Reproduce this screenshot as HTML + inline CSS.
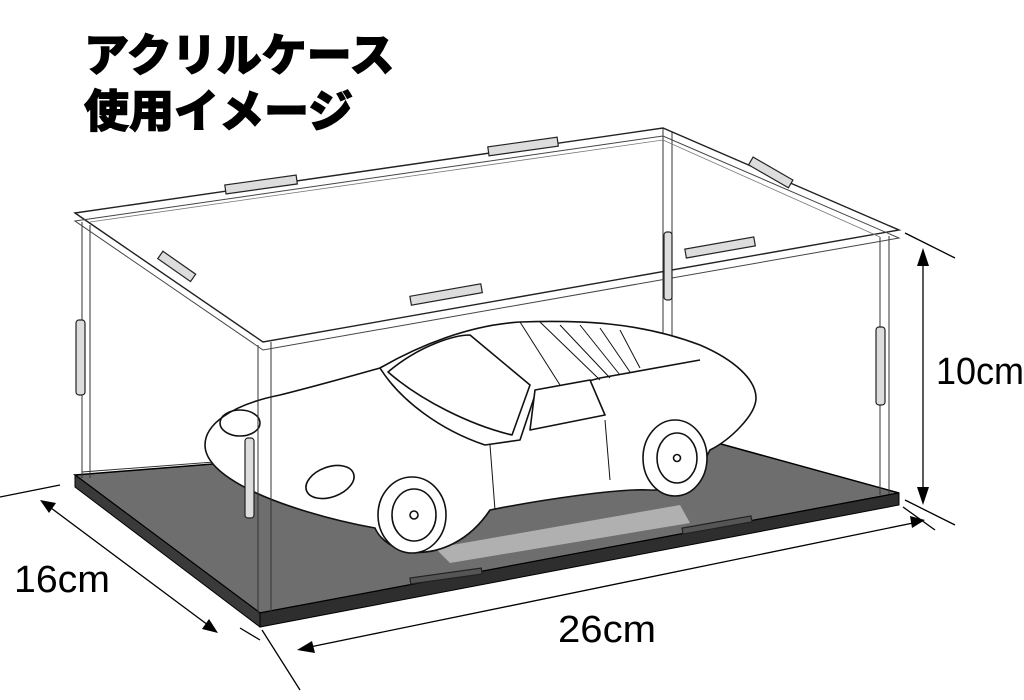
<!DOCTYPE html>
<html><head><meta charset="utf-8"><style>
html,body{margin:0;padding:0;background:#fff;width:1024px;height:700px;overflow:hidden}
</style></head><body>
<svg width="1024" height="700" viewBox="0 0 1024 700" xmlns="http://www.w3.org/2000/svg">
<text x="84" y="71" font-family="'Liberation Sans','Noto Sans CJK JP',sans-serif" font-weight="900" font-size="45" fill="#000" stroke="#000" stroke-width="1">アクリルケース</text>
<text x="84" y="127" font-family="'Liberation Sans','Noto Sans CJK JP',sans-serif" font-weight="900" font-size="45" fill="#000" stroke="#000" stroke-width="1">使用イメージ</text>

<!-- base -->
<polygon points="75,475 663,428 899,493 260,613" fill="#6e6e6e" stroke="#000" stroke-width="1.5"/>
<polygon points="75,475 260,613 260,627 75,487" fill="#3a3a3a" stroke="#000"/>
<polygon points="260,613 899,493 899,505 260,627" fill="#2e2e2e" stroke="#000"/>
<polygon points="435,548 680,505 690,523 450,563" fill="#b0b0b0"/>
<g stroke="#222" stroke-width="1.2" fill="#555">
<rect x="410" y="573" width="72" height="6" transform="rotate(-8 446 576)"/>
<rect x="682" y="522" width="70" height="6" transform="rotate(-10 717 525)"/>
</g>

<!-- back edges -->
<g stroke="#333" stroke-width="1" fill="none">
<line x1="663" y1="128" x2="663" y2="430"/><line x1="672" y1="132" x2="672" y2="430"/>
<line x1="82" y1="472" x2="663" y2="428"/>
</g>

<!-- car -->
<g stroke="#111" stroke-width="1.6" fill="#fff" stroke-linejoin="round">
<path d="M205,445 C205,425 230,405 280,395 C320,385 355,375 380,368 C420,345 470,325 520,322 C580,320 640,322 700,345 C735,360 756,380 756,398 C756,415 730,440 710,450 C700,470 680,492 650,490 C620,488 540,500 490,510 C470,540 440,555 410,552 C395,550 380,540 375,528 C330,520 280,505 250,490 C220,475 205,460 205,445 Z"/>
<path d="M380,368 C400,400 440,430 485,445 L520,440 L535,395 L600,378 L700,360" fill="none"/>
<path d="M388,372 C420,345 455,335 470,335 L530,385 L512,435 C470,425 420,400 388,372 Z"/>
<path d="M535,390 L590,380 L605,415 L530,430 Z"/>
<path d="M520,322 L560,385 M540,322 L600,380 M560,325 L610,378 M580,325 L620,375 M600,328 L630,372 M620,330 L640,368" fill="none" stroke-width="1"/>
<ellipse cx="240" cy="423" rx="20" ry="13" fill="none"/>
<ellipse cx="330" cy="482" rx="25" ry="15" fill="none" transform="rotate(-20 330 482)"/>
<path d="M605,420 L610,480 M490,445 L495,510" fill="none" stroke-width="1"/>
<ellipse cx="412" cy="515" rx="34" ry="38"/>
<ellipse cx="414" cy="515" rx="22" ry="26"/>
<circle cx="414" cy="515" r="4"/>
<ellipse cx="675" cy="458" rx="32" ry="38"/>
<ellipse cx="677" cy="458" rx="20" ry="25"/>
<circle cx="677" cy="458" r="3.5"/>
</g>

<!-- verticals -->
<g stroke="#333" stroke-width="1" fill="none">
<line x1="82" y1="222" x2="82" y2="478"/><line x1="90" y1="225" x2="90" y2="478"/>
<line x1="258" y1="345" x2="258" y2="615"/><line x1="271" y1="342" x2="271" y2="612"/>
<line x1="880" y1="237" x2="880" y2="495"/><line x1="889" y1="236" x2="889" y2="494"/>
</g>
<!-- lid -->
<polygon points="75,213 663,128 899,230 263,342" fill="none" stroke="#222" stroke-width="1.4"/>
<polygon points="75,221 663,136 899,238 263,350" fill="none" stroke="#444" stroke-width="1"/>
<polyline points="90,222 663,140 880,237" fill="none" stroke="#777" stroke-width="0.8"/>
<!-- clips -->
<g stroke="#222" stroke-width="1.2" fill="#ddd">
<rect x="225" y="180" width="72" height="9" transform="rotate(-8 261 184)"/>
<rect x="488" y="142" width="70" height="9" transform="rotate(-8 523 146)"/>
<rect x="410" y="290" width="72" height="9" transform="rotate(-10 446 294)"/>
<rect x="685" y="243" width="70" height="9" transform="rotate(-10 720 247)"/>
<rect x="157" y="262" width="40" height="9" transform="rotate(35 177 266)"/>
<rect x="748" y="168" width="46" height="9" transform="rotate(30 771 172)"/>
<rect x="76" y="320" width="9" height="75" rx="3"/>
<rect x="245" y="438" width="9" height="80" rx="3"/>
<rect x="876" y="327" width="9" height="78" rx="3"/>
<rect x="664" y="232" width="8" height="68" rx="3"/>
</g>

<!-- dimensions -->
<g stroke="#000" stroke-width="1.3" fill="none">
<line x1="905" y1="233" x2="955" y2="258"/>
<line x1="905" y1="500" x2="955" y2="525"/>
<line x1="923" y1="262" x2="923" y2="500"/>
<line x1="0" y1="497" x2="60" y2="485"/>
<line x1="47" y1="505" x2="212" y2="628"/>
<line x1="240" y1="628" x2="260" y2="640"/>
<line x1="305" y1="648" x2="918" y2="522"/>
<line x1="262" y1="630" x2="300" y2="690"/>
<line x1="903" y1="507" x2="935" y2="530"/>
</g>
<g fill="#000">
<polygon points="923,248 917,266 929,266"/>
<polygon points="923,505 917,487 929,487"/>
<polygon points="40,500 56,503 49,513"/>
<polygon points="218,633 202,629 209,619"/>
<polygon points="297,650 312,641 315,653"/>
<polygon points="925,520 910,516 912,528"/>
</g>
<g font-family="'Liberation Sans',sans-serif" font-size="38" fill="#000">
<text x="936" y="384" textLength="88" lengthAdjust="spacingAndGlyphs">10cm</text>
<text x="14" y="592" textLength="96" lengthAdjust="spacingAndGlyphs">16cm</text>
<text x="558" y="642" textLength="98" lengthAdjust="spacingAndGlyphs">26cm</text>
</g>
</svg>
</body></html>
